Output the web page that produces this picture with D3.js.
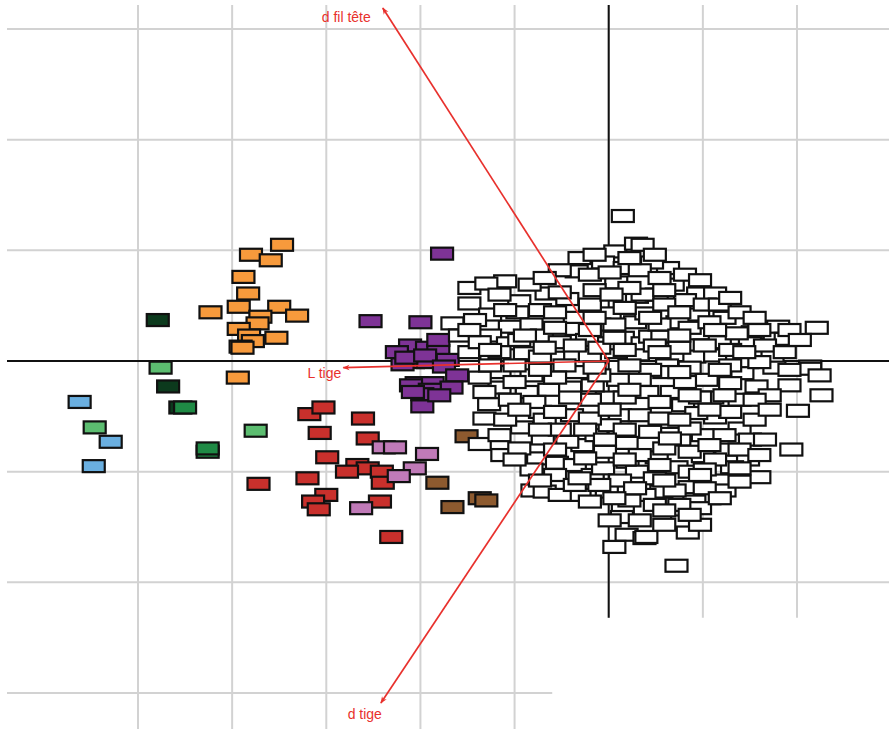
<!DOCTYPE html>
<html>
<head>
<meta charset="utf-8">
<script src="https://cdn.jsdelivr.net/npm/d3@7"></script>
<style>
  body { margin: 0; background: #fff; }
  svg { display: block; }
</style>
</head>
<body>
<div id="chart"></div>
<script>
// grid ticks (PC1 / PC2 units)
const xTicks = [-5, -4, -3, -2, -1, 0, 1, 2];
const yTicks = [-3, -2, -1, 0, 1, 2, 3];

// groups of individuals, [PC1, PC2]
const orange = [[-3.47,1.05],[-3.80,0.96],[-3.59,0.91],[-3.88,0.76],[-3.83,0.61],[-3.93,0.49],[-4.23,0.44],
  [-3.50,0.49],[-3.31,0.41],[-3.70,0.40],[-3.73,0.34],[-3.93,0.29],[-3.82,0.23],[-3.53,0.21],[-3.78,0.18],
  [-3.91,0.13],[-3.89,0.12],[-3.94,-0.15]];
const darkGreen = [[-4.79,0.37],[-4.68,-0.23],[-4.55,-0.42]];
const midGreen = [[-4.50,-0.42],[-4.26,-0.82],[-4.26,-0.79]];
const lightGreen = [[-4.76,-0.06],[-5.46,-0.60],[-3.75,-0.63]];
const blue = [[-5.62,-0.37],[-5.29,-0.73],[-5.47,-0.95]];
const purple = [[-1.77,0.97],[-2.53,0.36],[-2.00,0.35],[-2.11,0.14],[-2.25,0.08],[-1.93,0.12],[-1.81,0.09],
  [-1.81,0.19],[-2.08,-0.01],[-1.92,-0.01],[-2.19,-0.03],[-1.71,0.01],[-2.15,0.03],[-1.95,0.05],
  [-1.75,-0.05],[-2.04,-0.20],[-1.87,-0.20],[-1.61,-0.13],[-1.67,-0.24],[-2.10,-0.22],[-1.90,-0.26],
  [-1.98,-0.30],[-1.98,-0.41],[-2.08,-0.28],[-1.80,-0.31]];
const red = [[-3.18,-0.48],[-3.03,-0.42],[-2.61,-0.52],[-3.07,-0.65],[-2.56,-0.70],[-2.99,-0.87],[-2.67,-0.94],
  [-2.56,-0.97],[-2.78,-1.00],[-2.41,-1.00],[-3.20,-1.06],[-2.40,-1.10],[-3.72,-1.11],[-3.00,-1.21],
  [-3.14,-1.27],[-3.08,-1.34],[-2.43,-1.27],[-2.31,-1.59]];
const pink = [[-2.39,-0.78],[-2.27,-0.78],[-1.93,-0.84],[-2.06,-0.97],[-2.23,-1.04],[-2.63,-1.33]];
const brown = [[-1.51,-0.68],[-1.82,-1.10],[-1.66,-1.32],[-1.37,-1.24],[-1.30,-1.26]];
const white = [
  [0.15,1.31],[0.07,0.99],[0.29,1.06],[-0.31,0.93],[-0.06,0.89],[-0.34,0.81],[0.08,0.71],[-1.10,0.72],
  [-1.48,0.66],[-1.30,0.70],[-0.66,0.61],[-0.44,0.56],[-1.48,0.52],[-0.95,0.54],[-0.97,0.44],[-0.73,0.46],
  [0.01,0.43],[0.30,0.58],[-0.36,0.39],[-0.10,0.33],[-1.05,0.31],[-0.82,0.33],[-1.66,0.34],[0.28,0.35],
  [-0.71,0.23],[-1.58,0.23],[-1.26,0.23],[-0.34,0.29],[-1.07,0.16],[-1.48,0.08],[-0.89,0.07],[-0.59,0.03],
  [-0.73,0.04],[-0.20,0.05],[0.08,0.08],[0.31,0.06],[-0.02,0.16],[-0.52,0.17],[-0.23,0.19],[0.15,0.21],
  [0.36,0.16],[-1.16,0.08],
  [0.36,1.05],[0.63,0.84],[0.46,0.89],[0.68,0.69],[0.51,0.60],[0.95,0.61],[1.13,0.61],[0.36,0.60],
  [0.95,0.42],[0.73,0.35],[0.40,0.43],[0.44,0.22],[0.57,0.22],[0.95,0.25],[1.23,0.39],[1.53,0.26],
  [1.80,0.31],[1.88,0.20],[2.21,0.30],[0.49,0.14],[0.91,0.04],[1.13,0.05],[1.47,-0.01],[1.74,0.04],
  [2.14,-0.05],[0.62,-0.04],[1.18,0.17],[1.50,0.16],[1.36,0.25],
  [-1.16,-0.24],[-1.27,-0.39],[-1.32,-0.52],[-1.37,-0.75],[-1.13,-0.85],[-1.16,-0.10],[-0.82,-0.13],
  [-0.63,-0.26],[-0.41,-0.24],[-0.87,-0.28],[-0.73,-0.46],[-0.68,-0.53],[-0.39,-0.49],[-0.92,-0.60],
  [-0.70,-0.70],[-0.28,-0.76],[-0.44,-0.73],[-0.75,-0.88],[-0.55,-0.92],[-0.82,-0.98],[-0.36,-0.94],
  [-0.17,-1.03],[-0.81,-1.17],[-0.68,-1.18],[-0.31,-1.21],[-0.52,-1.21],[-0.02,-1.18],[0.15,-1.33],
  [0.14,-1.41],[0.19,-1.57],[0.06,-1.68],[0.12,-0.49],[0.19,-0.74],[0.20,-0.91],[-0.13,-0.67],[0.01,-0.58],
  [0.30,-1.00],[-0.02,-0.33],[0.10,-0.17],[-0.17,-0.22],[-0.34,-0.10],[-0.06,-0.97],[0.33,-1.15],[0.38,-1.60],
  [0.59,-0.10],[1.04,-0.17],[1.42,-0.11],[1.57,-0.23],[1.76,-0.06],[2.14,-0.07],[2.24,-0.13],[2.26,-0.31],
  [2.01,-0.45],[0.41,-0.28],[0.67,-0.28],[1.10,-0.33],[0.65,-0.55],[1.13,-0.51],[1.39,-0.61],[1.00,-0.67],
  [0.75,-0.71],[1.25,-0.80],[1.00,-0.86],[1.48,-0.89],[0.51,-0.87],[0.72,-0.96],[1.31,-0.96],[1.60,-1.05],
  [1.94,-0.80],[1.16,-1.08],[0.86,-1.14],[0.56,-1.18],[1.07,-1.24],[0.91,-1.27],[0.97,-1.33],[0.78,-1.45],
  [0.84,-1.55],[0.40,-1.59],[0.72,-1.85],[0.44,-0.08],[0.79,-0.40],[0.93,-0.47],
  [-0.52,0.82],[0.17,0.84],[0.33,0.82],[0.54,0.75],[0.81,0.78],
  [-0.84,0.69],[-0.15,0.64],[0.22,0.66],[0.81,0.55],[1.02,0.51],
  [-1.26,0.42],[-0.57,0.44],[-0.20,0.51],[0.17,0.48],[0.59,0.51],[1.18,0.51],[1.39,0.44],
  [-1.42,0.37],[-0.57,0.30],[0.06,0.33],[0.54,0.33],[0.86,0.30],[1.07,0.35],[1.60,0.28],
  [-1.37,0.17],[-0.95,0.19],[-0.36,0.14],[-0.10,0.12],[0.75,0.12],[1.29,0.10],[1.66,0.14],
  [-1.00,-0.04],[-0.47,-0.04],[0.22,-0.04],[0.86,-0.06],[1.29,-0.04],[1.60,-0.01],
  [-1.37,-0.15],[-1.00,-0.19],[-0.57,-0.15],[-0.10,-0.13],[0.33,-0.17],[0.81,-0.19],[1.29,-0.20],[1.92,-0.22],
  [-1.05,-0.35],[-0.79,-0.37],[-0.20,-0.35],[0.17,-0.33],[0.54,-0.37],[0.97,-0.33],[1.39,-0.35],[1.71,-0.31],
  [-1.10,-0.53],[-0.20,-0.52],[0.33,-0.49],[0.54,-0.52],[1.29,-0.46],[1.55,-0.53],
  [-0.52,-0.62],[-0.25,-0.62],[0.17,-0.62],[0.44,-0.64],[0.86,-0.61],[1.23,-0.67],[1.50,-0.71],
  [-0.95,-0.79],[-0.57,-0.80],[-0.04,-0.82],[0.33,-0.85],[0.59,-0.79],[0.86,-0.82],[1.13,-0.89],[1.39,-0.80],
  [-0.57,-1.03],[0.12,-1.08],[0.49,-1.06],[0.86,-1.00],[1.02,-0.98],[1.39,-0.97],
  [-0.36,-1.12],[-0.10,-1.12],[0.38,-1.21],[0.70,-1.17],[1.23,-1.17],
  [0.22,-1.26],[0.49,-1.30],[0.75,-1.30],[0.01,-1.44],[0.97,-1.48],
  [-0.15,0.96],[0.22,0.93],[0.49,0.96],
  [-0.68,0.75],[-0.20,0.78],[0.01,0.80],[0.97,0.73],
  [-1.16,0.60],[-0.52,0.62],[0.03,0.60],[0.59,0.64],[1.29,0.57],
  [-1.10,0.46],[-0.15,0.39],[0.44,0.39],[0.75,0.44],[1.55,0.39],
  [-1.48,0.28],[-0.89,0.23],[-0.20,0.28],[0.06,0.21],[0.75,0.23],[1.13,0.28],[1.92,0.28],[2.03,0.19],
  [-1.26,0.10],[-0.68,0.12],[0.17,0.10],[0.54,0.08],[1.02,0.14],[1.44,0.08],[1.87,0.08],
  [-1.26,-0.04],[-0.73,-0.08],[-0.15,-0.06],[0.75,-0.10],[1.18,-0.08],[1.92,-0.08],
  [-1.32,-0.28],[-0.41,-0.33],[0.22,-0.26],[0.86,-0.31],[1.23,-0.31],[1.55,-0.35],
  [-0.95,-0.44],[-0.57,-0.46],[0.01,-0.44],[0.75,-0.53],[1.07,-0.44],[1.71,-0.44],
  [-1.16,-0.67],[-0.73,-0.62],[-0.04,-0.71],[0.65,-0.70],[1.07,-0.76],[1.66,-0.71],
  [-1.00,-0.89],[-0.25,-0.88],[0.17,-0.89],[0.54,-0.94],[0.97,-1.03],[1.60,-0.85],
  [-0.73,-1.08],[-0.31,-1.06],[0.28,-1.15],[0.59,-1.08],[1.02,-1.15],[1.39,-1.09],
  [-0.20,-1.27],[0.06,-1.24],[0.59,-1.35],[1.18,-1.24],
  [0.33,-1.44],[0.59,-1.48],[0.86,-1.39]
];

// variable arrows (loadings)
const varNames = ["d fil tête", "L tige", "d tige"];
const varX = [-2.40, -2.82, -2.42];
const varY = [3.19, -0.06, -3.09];

const groups = [
  {pts: orange, fill: "#f79a3c"},
  {pts: darkGreen, fill: "#0c3a1d"},
  {pts: midGreen, fill: "#1f8a45"},
  {pts: lightGreen, fill: "#5cbd70"},
  {pts: blue, fill: "#6aafe0"},
  {pts: purple, fill: "#7e3396"},
  {pts: red, fill: "#c9302c"},
  {pts: pink, fill: "#c07ab8"},
  {pts: brown, fill: "#8d5a2f"},
  {pts: white, fill: "#ffffff"}
];

const W = 889, H = 729;
const x = d3.scaleLinear().domain([-5, 2]).range([138, 797]);
const y = d3.scaleLinear().domain([-3, 3]).range([693, 29]);

const svg = d3.select("#chart").append("svg")
  .attr("width", W).attr("height", H);

// grid
const xLo = x.invert(7), xHi = x.invert(889), yHi = y.invert(5), yLo = y.invert(740);
svg.append("g").selectAll("line").data(xTicks).enter().append("line")
  .attr("x1", d => x(d)).attr("x2", d => x(d))
  .attr("y1", y(yHi))
  .attr("y2", d => d >= 0 ? y(-2.32) : y(yLo))
  .attr("stroke", "#d2d2d2").attr("stroke-width", 2);
svg.append("g").selectAll("line").data(yTicks).enter().append("line")
  .attr("y1", d => y(d)).attr("y2", d => y(d))
  .attr("x1", x(xLo))
  .attr("x2", d => d <= -3 ? x(-0.6) : x(xHi))
  .attr("stroke", "#d2d2d2").attr("stroke-width", 2);

// axes through origin
svg.append("line").attr("x1", x(xLo)).attr("x2", x(xHi))
  .attr("y1", y(0)).attr("y2", y(0)).attr("stroke", "#111").attr("stroke-width", 2);
svg.append("line").attr("x1", x(0)).attr("x2", x(0))
  .attr("y1", y(yHi)).attr("y2", y(-2.32)).attr("stroke", "#111").attr("stroke-width", 2);

// individuals
const rw = 22, rh = 12;
groups.forEach(g => {
  svg.append("g").selectAll("rect").data(g.pts).enter().append("rect")
    .attr("x", d => x(d[0]) - rw / 2)
    .attr("y", d => y(d[1]) - rh / 2)
    .attr("width", rw).attr("height", rh)
    .attr("fill", g.fill)
    .attr("stroke", "#111").attr("stroke-width", 2.2);
});

// arrows
const arrowCol = "#e8312d";
svg.append("defs").append("marker")
  .attr("id", "ah").attr("viewBox", "0 0 10 10")
  .attr("refX", 9).attr("refY", 5)
  .attr("markerWidth", 9).attr("markerHeight", 7)
  .attr("markerUnits", "userSpaceOnUse")
  .attr("orient", "auto")
  .append("path").attr("d", "M0,1 L10,5 L0,9 L3,5 Z").attr("fill", arrowCol);

const arrows = varNames.map((n, i) => ({name: n, vx: varX[i], vy: varY[i]}));
svg.append("g").selectAll("line").data(arrows).enter().append("line")
  .attr("x1", x(0)).attr("y1", y(0))
  .attr("x2", d => x(d.vx)).attr("y2", d => y(d.vy))
  .attr("stroke", arrowCol).attr("stroke-width", 1.7)
  .attr("marker-end", "url(#ah)");

// label offsets relative to arrow tips
const labDx = [-12, -2, 1], labDy = [14, 10, 16];
svg.append("g").selectAll("text").data(arrows).enter().append("text")
  .attr("x", (d, i) => x(d.vx) + labDx[i])
  .attr("y", (d, i) => y(d.vy) + labDy[i])
  .attr("text-anchor", "end")
  .attr("font-family", "Liberation Sans, Arial, sans-serif")
  .attr("font-size", 14)
  .attr("fill", arrowCol)
  .text(d => d.name);
</script>
</body>
</html>
